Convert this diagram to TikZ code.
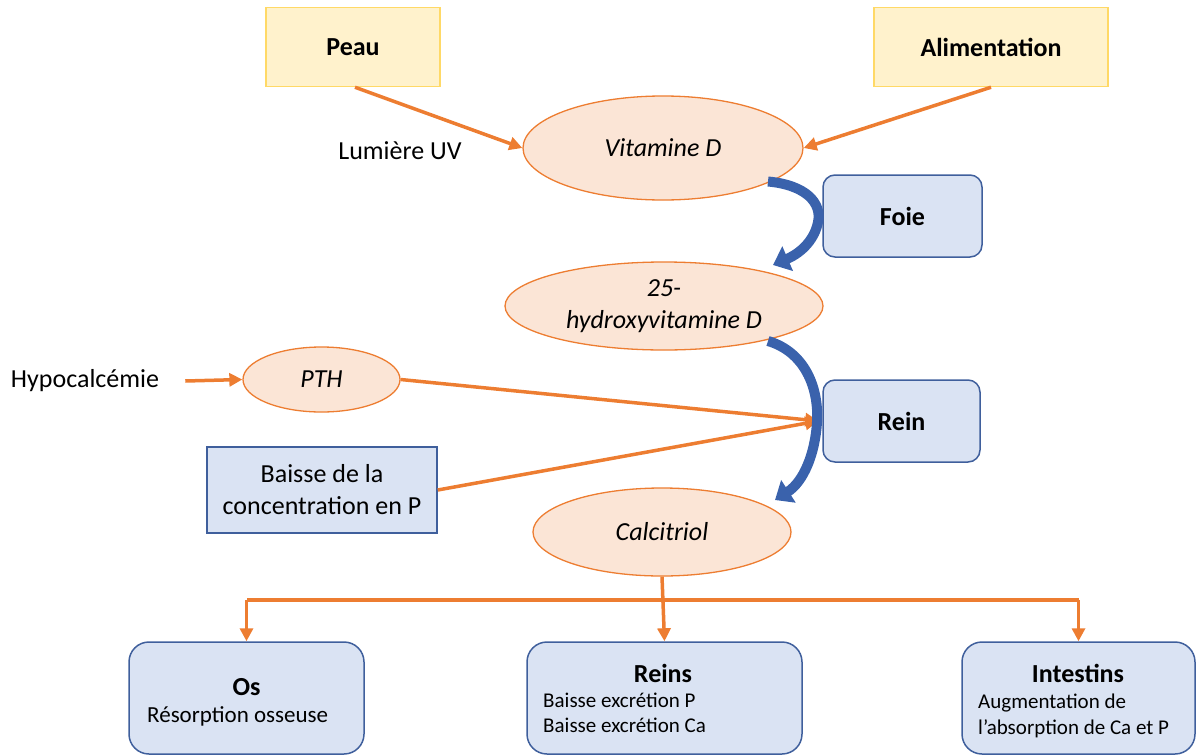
\documentclass[tikz,border=0pt]{standalone}
\usepackage{fontspec}
\setmainfont{Carlito}
\usetikzlibrary{arrows.meta,shapes.geometric}
\definecolor{ora}{HTML}{ED7D31}
\definecolor{elfill}{HTML}{FBE5D6}
\definecolor{yelfill}{HTML}{FFF2CC}
\definecolor{yeldraw}{HTML}{FFD966}
\definecolor{bluefill}{HTML}{DAE3F3}
\definecolor{bluedraw}{HTML}{3F5F9C}
\definecolor{arcblue}{HTML}{3A62AC}
\newcommand{\mainsize}{\fontsize{26}{32}\selectfont}
\newcommand{\smallsz}{\fontsize{21}{25}\selectfont}
\tikzset{
  x=1pt, y=-1pt,
  yelbox/.style={draw=yeldraw, line width=1.5pt, fill=yelfill, inner sep=0pt, font=\mainsize\bfseries},
  elnode/.style={ellipse, draw=ora, line width=1.3pt, fill=elfill, inner sep=0pt, font=\mainsize\itshape, align=center},
  roundbox/.style={draw=bluedraw, line width=1.5pt, fill=bluefill, rounded corners=12pt, inner sep=0pt, font=\mainsize\bfseries},
  bigbox/.style={draw=bluedraw, line width=1.5pt, fill=bluefill, rounded corners=20pt, inner sep=0pt},
  sqbox/.style={draw=bluedraw, line width=1.5pt, fill=bluefill, inner sep=0pt, font=\mainsize, align=center},
  plain/.style={font=\mainsize, inner sep=0pt},
  ttl/.style={font=\mainsize\bfseries, inner sep=0pt, anchor=base, text depth=0pt},
  bodyl/.style={font=\smallsz, inner sep=0pt, anchor=base west, text depth=0pt, text height=11pt},
  oarrow/.style={draw=ora, line width=3.5pt, -{Triangle[length=13pt,width=13pt]}},
  barc/.style={draw=arcblue, line width=10pt, -{Triangle[length=16pt,width=26pt]}},
}
\begin{document}
\begin{tikzpicture}
\useasboundingbox (0,0) rectangle (1196,755);
% top boxes
\node[yelbox, minimum width=174pt, minimum height=79pt] (peau) at (353,47) {Peau};
\node[yelbox, minimum width=234pt, minimum height=79pt] (alim) at (991,47) {Alimentation};
\node[plain] (uv) at (400,151) {Lumière UV};
% ellipses
\node[elnode, minimum width=280pt, minimum height=104pt] (vitd) at (663,148) {Vitamine D};
\node[elnode, minimum width=318pt, minimum height=88pt] (hyd) at (664,306) {25-\\hydroxyvitamine D};
\node[elnode, minimum width=157pt, minimum height=65pt] (pth) at (321.5,379.5) {PTH};
\node[elnode, minimum width=258pt, minimum height=88pt] (calc) at (662,532) {Calcitriol};
% organ boxes
\node[roundbox, minimum width=159pt, minimum height=82pt] (foie) at (902.5,216) {Foie};
\node[roundbox, minimum width=157pt, minimum height=82pt] (rein) at (901.5,421) {Rein};
\node[sqbox, minimum width=230pt, minimum height=86pt] (baisse) at (322,490) {Baisse de la\\concentration en P};
\node[plain] (hypo) at (85,381) {Hypocalcémie};
% bottom boxes
\node[bigbox, minimum width=235pt, minimum height=112pt] (os) at (246.5,698) {};
\node[bigbox, minimum width=275pt, minimum height=112pt] (reins) at (664.5,698) {};
\node[bigbox, minimum width=233pt, minimum height=112pt] (intest) at (1078.5,698) {};
\node[ttl] (ost) at (246.5,695) {Os};
\node[bodyl, font=\fontsize{23}{28}\selectfont] (osb) at (147,722) {Résorption osseuse};
\node[ttl] (reinst) at (663,682) {Reins};
\node[bodyl] (reinsb1) at (543,707) {Baisse excrétion P};
\node[bodyl] (reinsb2) at (543,732) {Baisse excrétion Ca};
\node[ttl] (intt) at (1078,682) {Intestins};
\node[bodyl] (intb1) at (978,708) {Augmentation de};
\node[bodyl] (intb2) at (978,734) {l’absorption de Ca et P};
% orange arrows
\draw[oarrow] ([xshift=2pt]peau.south) -- (vitd.west);
\draw[oarrow] (alim.south) -- (vitd.east);
\draw[oarrow] (hypo.east) ++(26,0) coordinate (hypoe) -- (pth.west);
\coordinate (reinin) at ([xshift=-4pt]rein.west);
\draw[oarrow] (pth.east) -- (reinin);
\draw[oarrow] (baisse.east) -- (reinin);
\draw[oarrow] (calc.south) -- (reins.north);
\coordinate (bus) at (662,600);
\draw[draw=ora, line width=3.5pt] (bus) -- (os.north |- bus);
\draw[draw=ora, line width=3.5pt] (bus) -- (intest.north |- bus);
\draw[oarrow] (os.north |- bus) -- (os.north);
\draw[oarrow] (intest.north |- bus) -- (intest.north);
% blue curved arrows
\coordinate (a1s) at (768,181.5);
\coordinate (a1e) at (773,265);
\coordinate (a2s) at (768,341);
\coordinate (a2e) at (775,500);
\draw[barc] (a1s) .. controls (806,185) and (822,203) .. (818,222) .. controls (815,238) and (803,252) .. (a1e);
\draw[barc] (a2s) .. controls (805,352) and (819,388) .. (817,422) .. controls (815,455) and (803,482) .. (a2e);
\end{tikzpicture}
\end{document}
